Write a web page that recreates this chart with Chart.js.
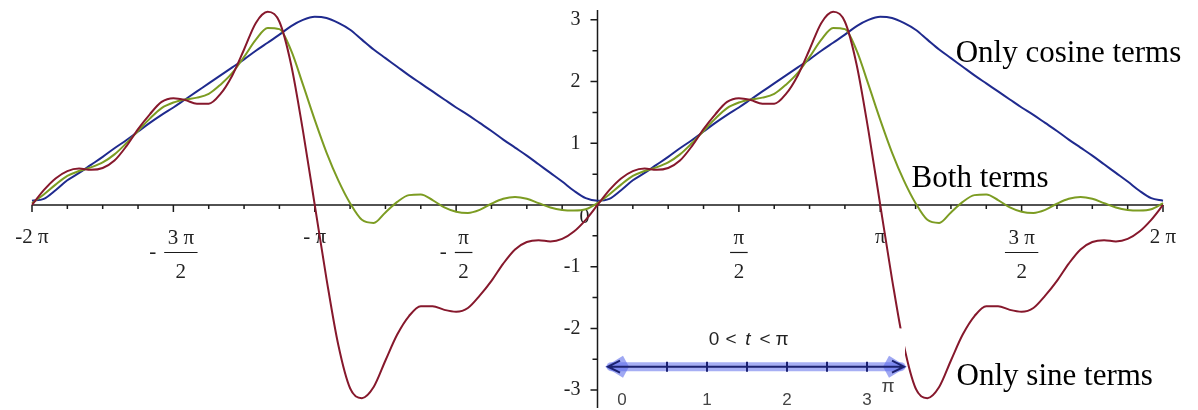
<!DOCTYPE html>
<html>
<head>
<meta charset="utf-8">
<script src="https://cdn.jsdelivr.net/npm/chart.js@4.4.0/dist/chart.umd.min.js"></script>
<style>
  html, body { margin: 0; padding: 0; background: #fff; }
  #chart { display: block; }
</style>
</head>
<body>
<canvas id="chart" width="1198" height="410"></canvas>
<script>
const PI = Math.PI;

// one period (0 .. 2π), every π/24; the left half repeats it
const stepsPerPi = 24;
const sineOnly = [
  0, 0.24, 0.43, 0.55, 0.59, 0.57, 0.60, 0.72, 0.95, 1.23, 1.47, 1.67, 1.73,
  1.70, 1.64, 1.64, 1.80, 2.10, 2.52, 2.95, 3.13, 2.97, 2.27, 1.20, 0,
  -1.20, -2.27, -2.97, -3.13, -2.95, -2.52, -2.10, -1.80, -1.64, -1.64, -1.70,
  -1.73, -1.67, -1.47, -1.23, -0.95, -0.72, -0.60, -0.57, -0.59, -0.55, -0.43, -0.24, 0,
];
const bothTerms = [
  0.03, 0.17, 0.33, 0.47, 0.55, 0.61, 0.69, 0.82, 1.00, 1.20, 1.40, 1.57, 1.66,
  1.71, 1.74, 1.80, 1.95, 2.14, 2.40, 2.68, 2.87, 2.85, 2.50, 1.95, 1.38,
  0.85, 0.40, 0.03, -0.24, -0.29, -0.12, 0.05, 0.16, 0.17, 0.08, -0.04,
  -0.11, -0.13, -0.08, 0.02, 0.10, 0.13, 0.10, 0.03, -0.04, -0.08, -0.09, -0.07, 0.03,
];
const cosineOnly = [
  0.07, 0.10, 0.24, 0.40, 0.52, 0.65, 0.78, 0.92, 1.05, 1.19, 1.33, 1.46, 1.58,
  1.71, 1.84, 1.97, 2.10, 2.23, 2.36, 2.50, 2.63, 2.76, 2.90, 3.00, 3.05,
  3.03, 2.95, 2.84, 2.68, 2.52, 2.38, 2.24, 2.10, 1.97, 1.84, 1.71,
  1.58, 1.46, 1.33, 1.20, 1.06, 0.93, 0.80, 0.66, 0.52, 0.38, 0.23, 0.11, 0.07,
];

// axis labels (x positions in multiples of π)
const xTickAt = [-2, -1.5, -1, -0.5, 0.5, 1, 1.5, 2];
const xTickSign = ['', '-', '', '-', '', '', '', ''];
const xTickNum = ['-2 π', '3 π', '- π', 'π', 'π', 'π', '3 π', '2 π'];
const xTickDen = ['', '2', '', '2', '2', '', '2', ''];
const yTickAt = [-3, -2, -1, 1, 2, 3];
const yTickText = ['-3', '-2', '-1', '1', '2', '3'];

const notes = ['Only cosine terms', 'Both terms', 'Only sine terms'];
const arrowText = ['0', '<', 't', '<', 'π'];
const arrowNums = ['0', '1', '2', '3'];

const toPoints = (values) => {
  const pts = [];
  values.forEach((v, k) => pts.push({ x: -2 * PI + (k * PI) / stepsPerPi, y: v }));
  values.forEach((v, k) => { if (k > 0) pts.push({ x: (k * PI) / stepsPerPi, y: v }); });
  return pts;
};

const serif = '"Liberation Serif", "Times New Roman", serif';
const sans = '"Liberation Sans", Arial, sans-serif';

const axesPlugin = {
  id: 'axes',
  beforeDatasetsDraw(chart) {
    const { ctx } = chart;
    const xs = chart.scales.x;
    const ys = chart.scales.y;
    const x0 = xs.getPixelForValue(0);
    const y0 = ys.getPixelForValue(0);
    ctx.save();
    ctx.strokeStyle = '#1a1a1a';
    ctx.lineWidth = 1.5;
    ctx.beginPath();
    ctx.moveTo(xs.left, y0); ctx.lineTo(xs.right, y0);
    ctx.moveTo(x0, ys.top); ctx.lineTo(x0, ys.bottom);
    for (let j = -16; j <= 16; j++) {
      const px = xs.getPixelForValue((j * PI) / 8);
      ctx.moveTo(px, y0);
      ctx.lineTo(px, y0 + (j % 4 === 0 ? 7 : 4));
    }
    for (let j = -6; j <= 6; j++) {
      const py = ys.getPixelForValue(j / 2);
      ctx.moveTo(x0, py);
      ctx.lineTo(x0 - (j % 2 === 0 ? 7 : 5), py);
    }
    ctx.stroke();

    ctx.fillStyle = '#222';
    ctx.font = `20px ${serif}`;
    ctx.textBaseline = 'middle';
    ctx.textAlign = 'right';
    yTickAt.forEach((v, i) => ctx.fillText(yTickText[i], x0 - 17, ys.getPixelForValue(v)));
    ctx.textAlign = 'center';
    ctx.fillText('0', x0 - 13, y0 + 13);

    ctx.font = `21px ${serif}`;
    ctx.textBaseline = 'alphabetic';
    ctx.lineWidth = 1.2;
    xTickAt.forEach((v, i) => {
      const cx = xs.getPixelForValue(v * PI);
      if (!xTickDen[i]) {
        ctx.textAlign = 'center';
        ctx.fillText(xTickNum[i], cx, y0 + 38);
        return;
      }
      const numW = ctx.measureText(xTickNum[i]).width;
      const barW = numW + 7;
      let fc = cx;
      if (xTickSign[i]) {
        const signW = ctx.measureText(xTickSign[i]).width;
        const start = cx - (signW + 8 + barW) / 2;
        ctx.textAlign = 'left';
        ctx.fillText(xTickSign[i], start, y0 + 53);
        fc = start + signW + 8 + barW / 2;
      }
      ctx.textAlign = 'center';
      ctx.fillText(xTickNum[i], fc, y0 + 39);
      ctx.beginPath();
      ctx.moveTo(fc - barW / 2, y0 + 47.5);
      ctx.lineTo(fc + barW / 2, y0 + 47.5);
      ctx.stroke();
      ctx.fillText(xTickDen[i], fc, y0 + 73);
    });
    ctx.restore();
  },
  afterDatasetsDraw(chart) {
    const { ctx } = chart;
    const xs = chart.scales.x;
    const ys = chart.scales.y;
    const x0 = xs.getPixelForValue(0);
    ctx.save();

    // pasted number-line picture: white backing, then the arrow
    const ay = ys.getPixelForValue(-2.62);
    const ax0 = x0 + 29.5;
    const unit = 80;
    const left = ax0 - 20;
    const right = ax0 + 278;
    ctx.fillStyle = '#fff';
    ctx.fillRect(x0 + 2, ys.getPixelForValue(-2.0), right - x0 - 2, chart.height);

    ctx.strokeStyle = 'rgba(95, 110, 235, 0.55)';
    ctx.lineWidth = 9;
    ctx.lineCap = 'round';
    ctx.beginPath();
    ctx.moveTo(left + 4, ay); ctx.lineTo(right - 4, ay);
    ctx.stroke();
    ctx.fillStyle = 'rgba(95, 110, 235, 0.6)';
    [[left, 1], [right, -1]].forEach(([tip, dir]) => {
      ctx.beginPath();
      ctx.moveTo(tip - dir * 2, ay);
      ctx.lineTo(tip + dir * 16, ay - 11);
      ctx.lineTo(tip + dir * 22, ay);
      ctx.lineTo(tip + dir * 16, ay + 11);
      ctx.closePath();
      ctx.fill();
    });
    ctx.strokeStyle = '#1c2270';
    ctx.lineWidth = 2;
    ctx.lineCap = 'butt';
    ctx.beginPath();
    ctx.moveTo(left + 1, ay); ctx.lineTo(right - 1, ay);
    ctx.moveTo(left + 13, ay - 6); ctx.lineTo(left + 1, ay); ctx.lineTo(left + 13, ay + 6);
    ctx.moveTo(right - 13, ay - 6); ctx.lineTo(right - 1, ay); ctx.lineTo(right - 13, ay + 6);
    for (let i = 1; i <= 6; i++) {
      ctx.moveTo(ax0 + (i * unit) / 2, ay - 5);
      ctx.lineTo(ax0 + (i * unit) / 2, ay + 5);
    }
    ctx.stroke();

    ctx.fillStyle = '#222';
    ctx.textAlign = 'center';
    ctx.textBaseline = 'middle';
    arrowText.forEach((s, i) => {
      ctx.font = s === 't' ? `italic 19px ${sans}` : `19px ${sans}`;
      ctx.fillText(s, ax0 + 87 + i * 17, ay - 27);
    });
    ctx.font = `17px ${sans}`;
    ctx.fillStyle = '#444';
    arrowNums.forEach((s, i) => ctx.fillText(s, ax0 + i * unit - (i === 0 ? 5 : 0), ay + 34));
    ctx.font = `19px ${sans}`;
    ctx.fillText('π', ax0 + 261, ay + 20);

    // curve names
    ctx.fillStyle = '#000';
    ctx.font = `31px ${serif}`;
    ctx.textAlign = 'left';
    ctx.textBaseline = 'alphabetic';
    ctx.fillText(notes[0], xs.getPixelForValue(3.98), ys.getPixelForValue(2.32));
    ctx.fillText(notes[1], xs.getPixelForValue(3.49), ys.getPixelForValue(0.29));
    ctx.fillText(notes[2], xs.getPixelForValue(3.99), ys.getPixelForValue(-2.92));
    ctx.restore();
  },
};

const lineSet = (label, values, color) => ({
  label,
  data: toPoints(values),
  borderColor: color,
  borderWidth: 2,
  pointRadius: 0,
  cubicInterpolationMode: 'monotone',
  borderJoinStyle: 'round',
  clip: false,
});

new Chart(document.getElementById('chart'), {
  type: 'line',
  data: {
    datasets: [
      lineSet('Only sine terms', sineOnly, '#86182c'),
      lineSet('Both terms', bothTerms, '#7c9c22'),
      lineSet('Only cosine terms', cosineOnly, '#1f2a8e'),
    ],
  },
  plugins: [axesPlugin],
  options: {
    responsive: false,
    devicePixelRatio: 1,
    animation: false,
    layout: { padding: { left: 32, right: 35, top: 10, bottom: 2 } },
    plugins: { legend: { display: false }, tooltip: { enabled: false } },
    scales: {
      x: { type: 'linear', min: -2 * PI, max: 2 * PI, display: false },
      y: { type: 'linear', min: -3.29, max: 3.16, display: false },
    },
  },
});
</script>
</body>
</html>
